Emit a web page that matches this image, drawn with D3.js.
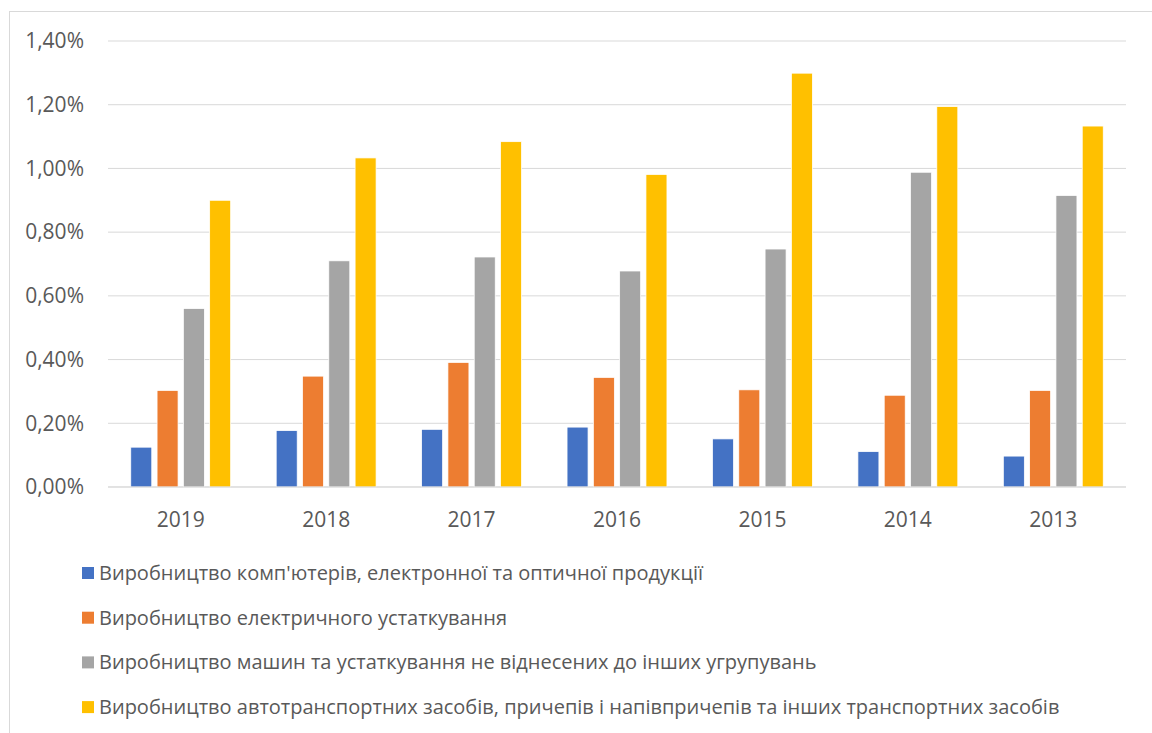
<!DOCTYPE html>
<html>
<head>
<meta charset="utf-8">
<script src="https://cdn.jsdelivr.net/npm/d3@7"></script>
<style>
  body { margin: 0; background: #fff; }
  svg { display: block; font-family: "Open Sans", "Noto Sans", sans-serif; }
</style>
</head>
<body>
<div id="chart"></div>
<script>
// Data
const years = ["2019", "2018", "2017", "2016", "2015", "2014", "2013"];
const seriesNames = [
    "Виробництво комп'ютерів, електронної та оптичної продукції",
    "Виробництво електричного устаткування",
    "Виробництво машин та устаткування не віднесених до інших угрупувань",
    "Виробництво автотранспортних засобів, причепів і напівпричепів та інших транспортних засобів"
];
const computers = [0.125, 0.177, 0.181, 0.188, 0.151, 0.111, 0.097];
const electrical = [0.303, 0.348, 0.391, 0.344, 0.305, 0.288, 0.303];
const machinery = [0.560, 0.710, 0.722, 0.678, 0.747, 0.988, 0.915];
const vehicles = [0.900, 1.033, 1.084, 0.981, 1.299, 1.194, 1.133];
const yTicks = [0, 0.2, 0.4, 0.6, 0.8, 1.0, 1.2, 1.4];
const colors = ["#4472C4", "#ED7D31", "#A5A5A5", "#FFC000"];

const allSeries = [computers, electrical, machinery, vehicles];

const W = 1152, H = 733;
const plot = {left: 108, right: 1126, top: 41, bottom: 487};

const svg = d3.select("#chart").append("svg")
    .attr("width", W)
    .attr("height", H);

// Chart border (partly outside the window)
svg.append("rect")
    .attr("x", 9.5).attr("y", 11.5)
    .attr("width", W + 20).attr("height", H + 20)
    .attr("fill", "none")
    .attr("stroke", "#d9d9d9");

// Scales
const x0 = d3.scaleBand().domain(years).range([plot.left, plot.right]);
const y = d3.scaleLinear().domain([0, 1.4]).range([plot.bottom, plot.top]);

const barW = 21, pitch = 26.3;

// Gridlines
svg.append("g")
    .selectAll("line")
    .data(yTicks)
    .join("line")
    .attr("x1", plot.left).attr("x2", plot.right)
    .attr("y1", d => y(d)).attr("y2", d => y(d))
    .attr("stroke", "#d9d9d9")
    .attr("stroke-width", 1);

// Y axis labels
const fmt = v => v.toFixed(2).replace(".", ",") + "%";
svg.append("g")
    .selectAll("text")
    .data(yTicks)
    .join("text")
    .attr("x", 84)
    .attr("y", d => y(d))
    .attr("dy", "0.35em")
    .attr("text-anchor", "end")
    .attr("fill", "#595959")
    .style("font-size", "21px")
    .text(fmt);

// Bars
allSeries.forEach((vals, si) => {
    svg.append("g")
        .selectAll("rect")
        .data(vals)
        .join("rect")
        .attr("x", (d, i) => x0(years[i]) + x0.bandwidth() / 2 + (si - 1.5) * pitch - barW / 2)
        .attr("y", d => y(d))
        .attr("width", barW)
        .attr("height", d => y(0) - y(d))
        .attr("fill", colors[si])
        .attr("stroke", "#fff")
        .attr("stroke-width", 0.75);
});

// X axis line
svg.append("line")
    .attr("x1", plot.left).attr("x2", plot.right)
    .attr("y1", y(0)).attr("y2", y(0))
    .attr("stroke", "#d9d9d9");

// X labels
svg.append("g")
    .selectAll("text")
    .data(years)
    .join("text")
    .attr("x", d => x0(d) + x0.bandwidth() / 2)
    .attr("y", 527)
    .attr("text-anchor", "middle")
    .attr("fill", "#595959")
    .style("font-size", "21px")
    .text(d => d);

// Legend
const legend = svg.append("g")
    .selectAll("g")
    .data(seriesNames)
    .join("g")
    .attr("transform", (d, i) => `translate(82,${573 + i * 44.7})`);

legend.append("rect")
    .attr("x", 0).attr("y", -6)
    .attr("width", 12).attr("height", 12)
    .attr("fill", (d, i) => colors[i]);

legend.append("text")
    .attr("x", 17)
    .attr("dy", "0.35em")
    .attr("fill", "#595959")
    .style("font-size", "20px")
    .text(d => d);
</script>
</body>
</html>
